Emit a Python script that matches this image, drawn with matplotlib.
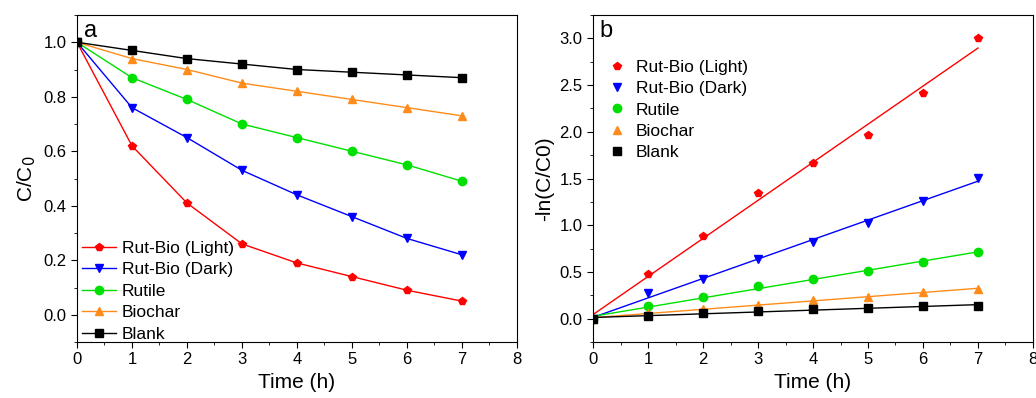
import numpy as np
import matplotlib
matplotlib.use("Agg")
import matplotlib.pyplot as plt
from matplotlib.ticker import MultipleLocator

plt.rcParams["font.family"] = ["Liberation Sans", "DejaVu Sans"]

time_h = [0, 1, 2, 3, 4, 5, 6, 7]
labels = ["Rut-Bio (Light)", "Rut-Bio (Dark)", "Rutile", "Biochar", "Blank"]
colors = ["#ff0000", "#0000ff", "#00e000", "#ff8c1a", "#000000"]
markers = ["p", "v", "o", "^", "s"]

# panel a: C/C0
light_c = [1.0, 0.62, 0.41, 0.26, 0.19, 0.14, 0.09, 0.05]
dark_c = [1.0, 0.76, 0.65, 0.53, 0.44, 0.36, 0.28, 0.22]
rutile_c = [1.0, 0.87, 0.79, 0.70, 0.65, 0.60, 0.55, 0.49]
biochar_c = [1.0, 0.94, 0.90, 0.85, 0.82, 0.79, 0.76, 0.73]
blank_c = [1.0, 0.97, 0.94, 0.92, 0.90, 0.89, 0.88, 0.87]

# panel b: -ln(C/C0)
light_ln = [0.0, 0.48, 0.88, 1.35, 1.67, 1.97, 2.41, 3.00]
dark_ln = [0.0, 0.27, 0.42, 0.64, 0.82, 1.02, 1.26, 1.51]
rutile_ln = [0.0, 0.13, 0.23, 0.35, 0.42, 0.51, 0.61, 0.71]
biochar_ln = [0.0, 0.06, 0.10, 0.15, 0.20, 0.23, 0.28, 0.32]
blank_ln = [0.0, 0.03, 0.06, 0.08, 0.10, 0.11, 0.13, 0.14]

series_a = [light_c, dark_c, rutile_c, biochar_c, blank_c]
series_b = [light_ln, dark_ln, rutile_ln, biochar_ln, blank_ln]

fig = plt.figure(figsize=(10.36, 3.98), dpi=100)
ax1 = fig.add_axes([0.0743, 0.1407, 0.4247, 0.8216])
ax2 = fig.add_axes([0.5724, 0.1407, 0.4247, 0.8216])

# --- panel a --- #
for y, lab, c, m in zip(series_a, labels, colors, markers):
    ax1.plot(time_h, y, color=c, marker=m, markersize=6, linewidth=1.0, label=lab)
ax1.set_xlim(0, 8)
ax1.set_ylim(-0.1, 1.1)
ax1.xaxis.set_major_locator(MultipleLocator(1))
ax1.xaxis.set_minor_locator(MultipleLocator(0.5))
ax1.yaxis.set_major_locator(MultipleLocator(0.2))
ax1.yaxis.set_minor_locator(MultipleLocator(0.1))
ax1.set_xlabel("Time (h)", fontsize=15)
ax1.set_ylabel("C/C$_0$", fontsize=15)
ax1.text(0.015, 0.985, "a", transform=ax1.transAxes, fontsize=17, va="top", ha="left")
ax1.legend(loc="lower left", frameon=False, fontsize=12.5, handlelength=2.0,
           handletextpad=0.3, labelspacing=0.36, borderaxespad=0.0,
           bbox_to_anchor=(-0.005, -0.02))

# --- panel b --- #
t = np.array(time_h)
for y, lab, c, m in zip(series_b, labels, colors, markers):
    ax2.plot(time_h, y, color=c, marker=m, markersize=6, linestyle="none", label=lab)
    k, b = np.polyfit(t, y, 1)
    ax2.plot(t, k * t + b, color=c, linewidth=1.0)
ax2.set_xlim(0, 8)
ax2.set_ylim(-0.25, 3.25)
ax2.xaxis.set_major_locator(MultipleLocator(1))
ax2.xaxis.set_minor_locator(MultipleLocator(0.5))
ax2.yaxis.set_major_locator(MultipleLocator(0.5))
ax2.yaxis.set_minor_locator(MultipleLocator(0.25))
ax2.set_xlabel("Time (h)", fontsize=15)
ax2.set_ylabel("-ln(C/C0)", fontsize=15)
ax2.text(0.015, 0.985, "b", transform=ax2.transAxes, fontsize=17, va="top", ha="left")
ax2.legend(loc="upper left", frameon=False, fontsize=12.5,
           handlelength=1.0, handletextpad=0.6, labelspacing=0.36,
           borderaxespad=0.0, bbox_to_anchor=(0.018, 0.885))

for ax in (ax1, ax2):
    ax.tick_params(which="both", direction="out", labelsize=12, top=False, right=False)
    ax.tick_params(which="major", length=4)
    ax.tick_params(which="minor", length=2.5)

fig.savefig("out.png", dpi=100)
